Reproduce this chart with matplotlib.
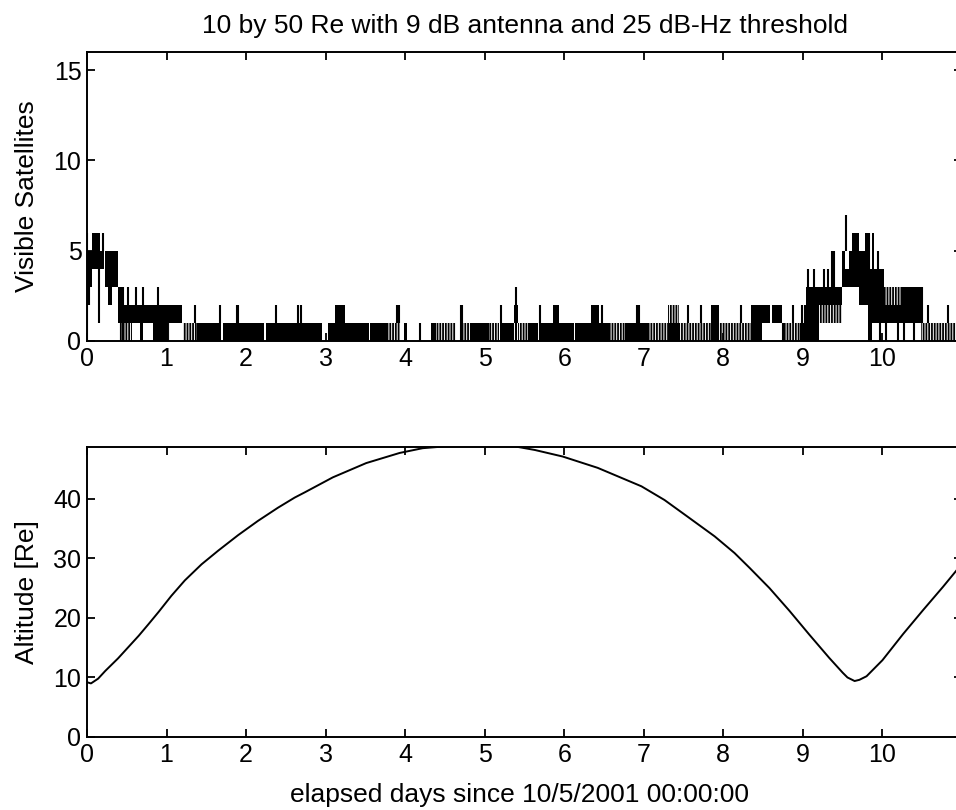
import numpy as np
import matplotlib
matplotlib.use('Agg')
import matplotlib.pyplot as plt

solidBands = [
   (0.01, 0.06, 3, 5), (0.06, 0.16, 4, 6), (0.16, 0.22, 4, 5), (0.22, 0.39, 3, 5),
   (0.26, 0.31, 2, 3), (0.39, 0.46, 1, 3), (0.46, 1.20, 1, 2), (0.67, 0.71, 0, 1),
   (0.83, 1.02, 0, 1), (1.38, 1.69, 0, 1), (1.71, 2.23, 0, 1), (2.25, 2.96, 0, 1),
   (3.03, 3.55, 0, 1), (3.12, 3.24, 1, 2), (3.56, 3.78, 0, 1), (3.99, 4.02, 0, 1),
   (4.33, 4.39, 0, 1), (4.82, 5.06, 0, 1), (5.19, 5.37, 0, 1), (5.37, 5.42, 1, 2),
   (5.55, 5.67, 0, 1), (5.70, 6.12, 0, 1), (5.86, 5.94, 1, 2), (6.14, 6.57, 0, 1),
   (6.34, 6.44, 1, 2), (6.76, 7.05, 0, 1), (7.30, 7.45, 0, 1), (7.85, 7.94, 0, 2),
   (8.35, 8.48, 0, 2), (8.48, 8.59, 1, 2), (8.61, 8.74, 1, 2), (8.96, 9.04, 0, 1),
   (9.04, 9.20, 0, 3), (9.20, 9.49, 2, 3), (9.49, 9.53, 3, 5), (9.53, 9.58, 3, 4),
   (9.58, 9.62, 3, 5), (9.62, 9.70, 3, 6), (9.70, 9.78, 2, 5), (9.78, 9.82, 2, 6),
   (9.82, 9.87, 0, 4), (9.87, 9.90, 1, 6), (9.90, 10.02, 1, 4), (10.02, 10.25, 1, 2),
   (10.25, 10.48, 1, 3),
]
hatchedBands = [
   (0.40, 0.56, 0, 1), (1.02, 1.04, 0, 1), (1.21, 1.38, 0, 1), (3.78, 3.93, 0, 1),
   (4.39, 4.64, 0, 1), (4.73, 4.82, 0, 1), (5.06, 5.18, 0, 1), (5.42, 5.55, 0, 1),
   (6.57, 6.76, 0, 1), (7.05, 7.30, 0, 1), (7.31, 7.44, 1, 2), (7.45, 7.85, 0, 1),
   (7.94, 8.35, 0, 1), (8.74, 8.96, 0, 1), (9.20, 9.49, 1, 2), (10.02, 10.25, 2, 3),
   (10.48, 11.0, 0, 1),
]
# single excursions (day, low, high)
spikes = [
   (0.005, 0, 6), (0.03, 2, 5), (0.15, 1, 4), (0.20, 5, 6), (0.45, 0, 3), (0.51, 2, 3),
   (0.61, 2, 3), (0.71, 2, 3), (0.89, 0, 3), (1.36, 1, 2), (1.67, 1, 2), (1.88, 1, 2),
   (1.90, 1, 2), (2.38, 1, 2), (2.65, 1, 2), (2.69, 1, 2), (3.90, 1, 2), (3.92, 1, 2),
   (4.19, 0, 1), (4.70, 0, 2), (4.72, 0, 2), (5.20, 1, 2), (5.39, 0, 3), (5.69, 0, 2),
   (6.47, 1, 2), (6.91, 1, 2), (6.94, 1, 2), (7.55, 1, 2), (7.72, 1, 2), (8.22, 1, 2),
   (8.75, 0, 1), (8.88, 1, 2), (8.99, 1, 2), (9.03, 1, 2), (9.07, 3, 4), (9.14, 3, 4),
   (9.27, 3, 4), (9.31, 3, 4), (9.37, 3, 5), (9.39, 3, 5), (9.545, 5, 7), (9.83, 4, 6),
   (9.95, 4, 5), (9.97, 0, 1), (10.05, 0, 1), (10.20, 0, 1), (10.27, 0, 1), (10.40, 0, 1),
   (10.50, 1, 3), (10.57, 1, 2), (10.82, 1, 2),
]

# altitude of the orbit
altDays = [0, 0.05, 0.14, 0.23, 0.39, 0.52, 0.65, 0.77, 0.90, 1.06, 1.23, 1.44, 1.65,
           1.90, 2.15, 2.40, 2.61, 2.74, 3.09, 3.51, 3.93, 4.22, 4.5, 4.8, 5.1, 5.38,
           5.63, 5.98, 6.42, 6.97, 7.26, 7.55, 7.89, 8.14, 8.33, 8.58, 8.83, 9.08, 9.33,
           9.50, 9.56, 9.65, 9.71, 9.80, 10.0, 10.26, 10.51, 10.76, 10.92, 11.0]
altRe = [9.2, 9.0, 9.8, 11.1, 13.2, 15.1, 17.0, 18.9, 21.0, 23.7, 26.3, 29.0, 31.3,
         33.9, 36.3, 38.5, 40.2, 41.1, 43.6, 46.0, 47.7, 48.5, 48.8, 48.9, 48.9, 48.8,
         48.2, 47.1, 45.2, 42.1, 39.8, 37.0, 33.7, 30.9, 28.4, 25.0, 21.2, 17.2, 13.3,
         10.8, 10.0, 9.4, 9.6, 10.2, 12.9, 17.3, 21.3, 25.2, 27.8, 29.1]

title = '10 by 50 Re with 9 dB antenna and 25 dB-Hz threshold'
xTicks = list(range(0, 11))

plt.rcParams['font.family'] = ['Liberation Sans', 'DejaVu Sans']
plt.rcParams['hatch.linewidth'] = 1.3

fig = plt.figure(figsize=(9.56, 8.10), dpi=100)
ax1 = fig.add_axes([87/956, 1 - 341/810, 875/956, 289/810])
ax2 = fig.add_axes([87/956, 1 - 737/810, 875/956, 290/810])

def bandBars(ax, bands, **kw):
   b = np.array(bands, dtype=float)
   ax.bar(b[:, 0], b[:, 3] - b[:, 2], width=b[:, 1] - b[:, 0], bottom=b[:, 2],
          align='edge', **kw)

bandBars(ax1, hatchedBands, facecolor='none', edgecolor='black', hatch='||||||',
         linewidth=0, zorder=1)
bandBars(ax1, solidBands, color='black', linewidth=0, zorder=2)
s = np.array(spikes, dtype=float)
ax1.vlines(s[:, 0], s[:, 1], s[:, 2], colors='black', linewidth=1.5, zorder=3)
ax1.set_xlim(0, 11)
ax1.set_ylim(0, 16)
ax1.set_yticks([0, 5, 10, 15])
ax1.set_ylabel('Visible Satellites', fontsize=19, va='center')
ax1.yaxis.set_label_coords(-0.0686, 0.5)
ax1.set_title(title, fontsize=19, pad=14)

ax2.plot(altDays, altRe, color='black', linewidth=1.4)
ax2.set_xlim(0, 11)
ax2.set_ylim(0, 48.7)
ax2.set_yticks([0, 10, 20, 30, 40])
ax2.set_ylabel('Altitude [Re]', fontsize=19, va='center')
ax2.yaxis.set_label_coords(-0.0686, 0.5)
ax2.set_xlabel('elapsed days since 10/5/2001 00:00:00', fontsize=19, va='center')
ax2.xaxis.set_label_coords(0.494, -0.2)

for ax in (ax1, ax2):
   ax.set_xticks(xTicks)
   ax.tick_params(direction='in', top=True, right=True, length=6, width=1.3,
                  labelsize=18, pad=4)
   for sp in ax.spines.values():
      sp.set_linewidth(1.4)

fig.savefig('out.png', dpi=100)
